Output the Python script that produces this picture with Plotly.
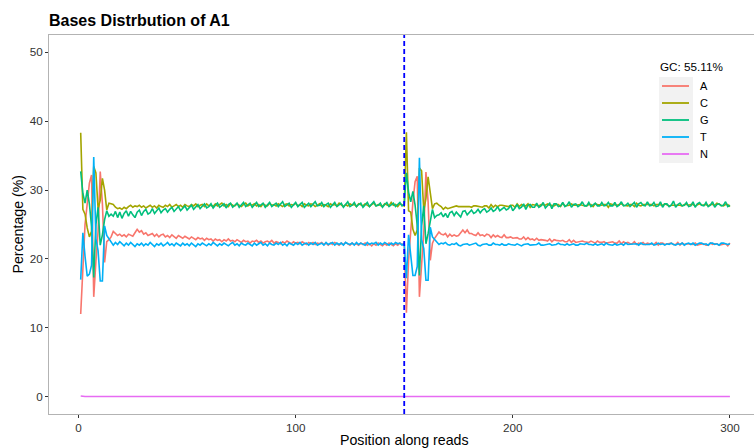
import plotly.graph_objects as go

# ---------------- data (read 1 = positions 1-150, read 2 = positions 151-300) ----------------
A_read1 = [12.0, 19.5, 25.0, 28.0, 31.0, 32.2, 14.5, 19.6, 24.0, 32.7,
           28.0, 19.5, 22.5, 22.8, 23.2, 24.0, 23.7, 23.4, 23.6, 23.3,
           23.5, 23.2, 23.6, 23.4, 23.3, 23.8, 24.3, 23.9, 24.1, 23.6,
           23.8, 23.4, 23.5, 23.7, 23.3, 23.6, 23.2, 23.5, 23.6, 23.2,
           23.4, 23.1, 23.5, 23.3, 23.0, 23.4, 23.2, 23.0, 23.3, 23.1,
           22.9, 23.2, 23.0, 22.8, 23.1, 22.9, 23.0, 22.7, 23.0, 22.8,
           22.9, 22.6, 22.9, 22.7, 22.8, 22.5, 22.8, 22.6, 22.9, 22.6,
           22.7, 22.5, 22.8, 22.6, 22.4, 22.7, 22.5, 22.6, 22.3, 22.6,
           22.5, 22.7, 22.4, 22.6, 22.3, 22.5, 22.6, 22.4, 22.7, 22.3,
           22.5, 22.4, 22.2, 22.5, 22.3, 22.6, 22.4, 22.2, 22.5, 22.3,
           22.4, 22.2, 22.5, 22.3, 22.1, 22.4, 22.2, 22.4, 22.1, 22.3,
           22.2, 22.4, 22.1, 22.3, 22.0, 22.3, 22.1, 22.4, 22.2, 22.0,
           22.3, 22.1, 22.4, 22.2, 22.0, 22.3, 22.1, 22.2, 22.0, 22.3,
           22.1, 22.3, 22.0, 22.2, 21.9, 22.2, 22.0, 22.3, 22.1, 21.9,
           22.2, 22.0, 22.3, 22.1, 21.9, 22.2, 22.0, 22.3, 22.1, 22.2]
A_read2 = [12.2, 19.8, 24.6, 28.3, 31.2, 32.0, 14.5, 19.9, 23.8, 32.6,
           28.3, 19.8, 22.3, 23.0, 23.5, 23.9, 23.6, 23.5, 23.7, 23.2,
           23.6, 23.3, 23.5, 23.3, 23.4, 23.9, 24.2, 23.8, 24.2, 23.7,
           23.7, 23.5, 23.4, 23.8, 23.4, 23.5, 23.3, 23.6, 23.5, 23.1,
           23.5, 23.2, 23.4, 23.2, 23.1, 23.5, 23.1, 23.1, 23.2, 23.0,
           23.0, 23.1, 22.9, 22.9, 23.2, 22.8, 23.1, 22.8, 22.9, 22.7,
           23.0, 22.7, 22.8, 22.8, 22.7, 22.6, 22.9, 22.5, 22.8, 22.7,
           22.6, 22.6, 22.7, 22.5, 22.5, 22.8, 22.4, 22.7, 22.4, 22.5,
           22.6, 22.6, 22.5, 22.5, 22.4, 22.6, 22.5, 22.3, 22.6, 22.4,
           22.4, 22.5, 22.3, 22.4, 22.4, 22.5, 22.3, 22.3, 22.6, 22.2,
           22.5, 22.3, 22.4, 22.2, 22.2, 22.5, 22.1, 22.3, 22.2, 22.4,
           22.1, 22.3, 22.2, 22.2, 22.1, 22.4, 22.0, 22.3, 22.3, 22.1,
           22.2, 22.2, 22.3, 22.1, 22.1, 22.4, 22.0, 22.3, 22.1, 22.2,
           22.2, 22.2, 22.1, 22.3, 22.0, 22.1, 22.1, 22.2, 22.0, 22.0,
           22.3, 22.1, 22.2, 22.2, 22.0, 22.1, 22.1, 22.2, 21.9, 22.3]

C_read1 = [38.3, 27.2, 26.5, 24.5, 23.2, 24.0, 33.4, 32.5, 27.3, 28.5,
           31.7, 30.0, 27.1, 28.1, 28.0, 27.9, 27.5, 27.3, 27.4, 27.2,
           27.5, 27.3, 27.6, 27.8, 27.5, 27.7, 27.6, 27.8, 27.5, 27.7,
           27.4, 27.6, 27.8, 27.5, 27.7, 27.4, 27.8, 27.6, 27.5, 27.8,
           27.6, 27.9, 27.5, 27.7, 27.9, 27.6, 27.8, 27.5, 27.9, 27.7,
           27.6, 27.9, 27.7, 28.0, 27.6, 27.8, 27.9, 27.6, 28.0, 27.7,
           27.8, 27.6, 28.0, 27.7, 27.9, 28.1, 27.7, 27.9, 27.6, 28.0,
           27.8, 27.7, 28.0, 27.8, 27.6, 27.9, 28.1, 27.7, 27.9, 27.8,
           28.0, 27.7, 27.9, 27.6, 28.0, 27.8, 27.7, 28.1, 27.8, 27.9,
           27.7, 28.0, 27.8, 27.6, 27.9, 28.0, 27.7, 27.9, 27.8, 28.1,
           27.7, 27.9, 27.6, 28.0, 27.8, 27.7, 28.0, 27.9, 27.6, 27.8,
           28.0, 27.7, 27.9, 27.8, 27.6, 28.0, 27.8, 27.9, 27.7, 28.1,
           27.8, 27.6, 27.9, 27.7, 28.0, 27.8, 27.9, 27.6, 28.0, 27.8,
           27.7, 28.0, 27.8, 27.6, 27.9, 28.1, 27.7, 27.9, 27.8, 27.6,
           28.0, 27.8, 27.7, 28.2, 27.8, 27.9, 27.6, 28.0, 27.8, 27.7]
C_read2 = [38.4, 27.0, 26.8, 24.3, 23.4, 24.2, 33.2, 32.8, 27.0, 28.8,
           31.9, 29.6, 27.3, 28.0, 28.1, 27.8, 27.6, 27.2, 27.5, 27.3,
           27.4, 27.4, 27.5, 27.7, 27.6, 27.6, 27.7, 27.7, 27.6, 27.6,
           27.5, 27.7, 27.7, 27.6, 27.6, 27.5, 27.7, 27.7, 27.4, 27.9,
           27.5, 27.8, 27.6, 27.8, 27.8, 27.7, 27.7, 27.6, 27.8, 27.8,
           27.5, 28.0, 27.6, 27.9, 27.7, 27.7, 28.0, 27.5, 27.9, 27.8,
           27.7, 27.7, 27.9, 27.8, 27.8, 28.0, 27.8, 27.8, 27.7, 27.9,
           27.9, 27.6, 28.1, 27.7, 27.7, 27.8, 28.0, 27.8, 27.8, 27.9,
           27.9, 27.8, 27.8, 27.7, 27.9, 27.9, 27.6, 28.0, 27.9, 27.8,
           27.8, 27.9, 27.9, 27.5, 28.0, 27.9, 27.8, 27.8, 27.9, 28.0,
           27.8, 27.8, 27.7, 27.9, 27.9, 27.6, 28.1, 27.8, 27.7, 27.9,
           27.9, 27.8, 27.8, 27.9, 27.7, 27.9, 27.9, 27.8, 27.8, 28.0,
           27.9, 27.7, 27.8, 27.8, 27.9, 27.9, 27.8, 27.7, 27.9, 27.9,
           27.8, 27.9, 27.9, 27.7, 27.8, 28.0, 27.8, 27.8, 27.9, 27.7,
           27.9, 27.9, 27.8, 28.1, 27.9, 27.8, 27.7, 27.9, 27.9, 27.6]

G_read1 = [32.7, 29.5, 28.1, 30.0, 28.0, 24.7, 17.3, 25.0, 27.5, 22.0,
           23.5, 25.7, 27.0, 26.2, 26.5, 26.2, 26.9, 26.0, 26.8, 25.9,
           26.6, 27.0, 26.2, 26.9, 26.4, 26.0, 26.8, 27.1, 26.3, 26.9,
           27.2, 26.5, 26.7, 27.3, 26.6, 27.0, 27.4, 26.7, 27.1, 27.3,
           26.8, 27.2, 27.5, 26.9, 27.3, 27.6, 27.0, 27.4, 27.7, 27.1,
           27.5, 27.8, 27.2, 27.6, 27.9, 27.3, 27.7, 28.0, 27.4, 27.6,
           28.0, 27.4, 27.8, 28.1, 27.5, 27.7, 28.0, 27.4, 27.9, 28.1,
           27.5, 27.8, 28.1, 27.5, 27.9, 28.2, 27.6, 27.8, 28.1, 27.5,
           27.9, 28.2, 27.6, 27.8, 28.1, 27.5, 27.9, 28.2, 27.6, 27.8,
           28.1, 27.6, 27.9, 28.3, 27.6, 27.8, 28.1, 27.5, 27.9, 28.2,
           27.6, 27.9, 28.2, 27.5, 27.8, 28.1, 27.6, 27.9, 28.3, 27.7,
           27.8, 28.2, 27.6, 27.9, 28.1, 27.5, 27.8, 28.2, 27.6, 27.9,
           28.1, 27.5, 27.9, 28.3, 27.6, 27.8, 28.2, 27.6, 27.9, 28.1,
           27.5, 27.8, 28.2, 27.6, 27.9, 28.3, 27.7, 27.8, 28.1, 27.5,
           27.9, 28.2, 27.6, 27.8, 28.1, 27.6, 27.9, 28.2, 27.7, 27.9]
G_read2 = [32.5, 29.7, 28.3, 29.8, 27.8, 24.9, 17.6, 24.8, 27.7, 22.2,
           23.7, 25.5, 27.2, 26.0, 26.3, 26.4, 26.7, 26.1, 26.6, 26.0,
           26.7, 26.9, 26.3, 26.8, 26.5, 26.1, 26.9, 27.0, 26.4, 26.8,
           27.1, 26.6, 26.8, 27.2, 26.7, 27.1, 27.3, 26.8, 27.0, 27.4,
           26.9, 27.1, 27.6, 27.0, 27.2, 27.5, 27.1, 27.3, 27.8, 27.0,
           27.4, 27.9, 27.3, 27.5, 28.0, 27.2, 27.8, 27.9, 27.5, 27.5,
           28.1, 27.5, 27.7, 28.2, 27.4, 27.8, 28.1, 27.3, 28.0, 28.0,
           27.6, 27.7, 28.2, 27.6, 27.8, 28.3, 27.5, 27.9, 28.0, 27.6,
           27.8, 28.3, 27.7, 27.7, 28.2, 27.6, 27.8, 28.1, 27.7, 27.7,
           28.2, 27.7, 27.8, 28.2, 27.7, 27.7, 28.2, 27.6, 27.8, 28.3,
           27.7, 27.8, 28.1, 27.6, 27.9, 28.2, 27.5, 28.0, 28.2, 27.8,
           27.7, 28.3, 27.7, 27.8, 28.2, 27.6, 27.7, 28.3, 27.5, 28.0,
           28.0, 27.6, 27.8, 28.4, 27.5, 27.9, 28.1, 27.7, 27.8, 28.2,
           27.6, 27.7, 28.3, 27.5, 28.0, 28.2, 27.8, 27.7, 28.2, 27.6,
           27.8, 28.3, 27.5, 27.9, 28.0, 27.7, 27.8, 28.3, 27.6, 27.8]

T_read1 = [17.0, 23.8, 20.4, 17.5, 17.8, 19.1, 34.8, 22.9, 21.2, 16.8,
           16.8, 24.8, 23.4, 22.9, 22.3, 22.0, 22.4, 22.1, 22.5, 22.2,
           21.9, 22.3, 22.0, 22.4, 22.1, 21.8, 22.2, 22.0, 22.3, 21.9,
           22.2, 22.0, 22.4, 22.1, 21.8, 22.2, 22.0, 22.3, 21.9, 22.1,
           22.4, 22.0, 22.2, 21.9, 22.3, 22.1, 21.9, 22.3, 22.0, 22.2,
           21.9, 22.3, 22.1, 21.8, 22.2, 22.0, 22.3, 22.1, 21.9, 22.2,
           22.0, 22.4, 22.1, 21.9, 22.2, 22.0, 22.3, 22.1, 21.9, 22.2,
           22.4, 22.0, 22.2, 21.9, 22.3, 22.1, 22.0, 22.3, 22.1, 21.9,
           22.3, 22.0, 22.2, 22.4, 22.0, 22.2, 21.9, 22.3, 22.1, 22.0,
           22.3, 22.1, 22.4, 22.0, 22.2, 21.9, 22.3, 22.1, 22.0, 22.3,
           22.1, 22.4, 22.0, 22.2, 22.3, 22.0, 22.3, 22.1, 22.4, 22.0,
           22.2, 22.3, 22.0, 22.4, 22.1, 22.2, 22.4, 22.0, 22.3, 22.1,
           22.3, 22.0, 22.4, 22.2, 22.1, 22.3, 22.0, 22.4, 22.1, 22.3,
           22.2, 22.0, 22.4, 22.1, 22.3, 22.2, 22.4, 22.0, 22.3, 22.1,
           22.4, 22.2, 22.0, 22.3, 22.1, 22.4, 22.2, 22.3, 22.0, 22.3]
T_read2 = [17.2, 23.5, 20.3, 17.6, 17.6, 18.9, 34.7, 22.8, 21.5, 16.9,
           16.9, 24.6, 23.2, 22.8, 22.4, 22.1, 22.3, 22.2, 22.4, 22.1,
           22.0, 22.2, 22.1, 22.3, 22.0, 21.9, 22.1, 22.1, 22.2, 22.0,
           22.1, 22.1, 22.3, 22.0, 21.9, 22.1, 22.1, 22.2, 22.0, 22.0,
           22.3, 22.1, 22.1, 22.0, 22.2, 22.0, 22.0, 22.2, 22.1, 22.1,
           22.0, 22.2, 22.0, 21.9, 22.1, 22.1, 22.2, 22.0, 22.0, 22.1,
           22.1, 22.3, 22.0, 22.0, 22.1, 22.1, 22.2, 22.0, 22.0, 22.1,
           22.3, 22.1, 22.1, 22.0, 22.2, 22.0, 22.1, 22.2, 22.0, 22.0,
           22.2, 22.1, 22.1, 22.3, 22.1, 22.1, 22.0, 22.2, 22.0, 22.1,
           22.2, 22.0, 22.3, 22.1, 22.1, 22.0, 22.2, 22.0, 22.1, 22.2,
           22.0, 22.3, 22.1, 22.1, 22.2, 22.1, 22.2, 22.0, 22.3, 22.1,
           22.1, 22.2, 22.1, 22.3, 22.0, 22.1, 22.3, 22.1, 22.2, 22.0,
           22.2, 22.1, 22.3, 22.1, 22.0, 22.2, 22.1, 22.3, 22.0, 22.2,
           22.3, 22.1, 22.3, 22.0, 22.2, 22.3, 22.3, 22.1, 22.2, 22.0,
           22.3, 22.3, 22.1, 22.2, 22.0, 22.3, 22.3, 22.2, 22.1, 22.2]

N_read1 = [0.12, 0.04, 0.03, 0.03, 0.03, 0.03, 0.03, 0.03, 0.03, 0.03,
           0.03, 0.03, 0.05, 0.12, 0.05, 0.03, 0.03, 0.03, 0.03, 0.03,
           0.03, 0.03, 0.03, 0.03, 0.03, 0.03, 0.03, 0.03, 0.03, 0.03,
           0.03, 0.03, 0.03, 0.03, 0.03, 0.03, 0.03, 0.03, 0.03, 0.03,
           0.03, 0.03, 0.03, 0.03, 0.03, 0.03, 0.03, 0.05, 0.13, 0.05,
           0.03, 0.03, 0.03, 0.03, 0.03, 0.03, 0.03, 0.03, 0.03, 0.03,
           0.03, 0.03, 0.03, 0.03, 0.03, 0.03, 0.03, 0.03, 0.03, 0.03,
           0.03, 0.03, 0.03, 0.03, 0.03, 0.03, 0.03, 0.03, 0.03, 0.03,
           0.03, 0.03, 0.03, 0.03, 0.03, 0.03, 0.03, 0.03, 0.03, 0.03,
           0.03, 0.03, 0.03, 0.03, 0.03, 0.03, 0.03, 0.03, 0.03, 0.03,
           0.03, 0.03, 0.03, 0.03, 0.03, 0.03, 0.03, 0.03, 0.03, 0.03,
           0.03, 0.03, 0.03, 0.03, 0.03, 0.03, 0.03, 0.03, 0.03, 0.03,
           0.03, 0.03, 0.03, 0.03, 0.03, 0.03, 0.03, 0.03, 0.03, 0.03,
           0.03, 0.03, 0.03, 0.03, 0.03, 0.03, 0.03, 0.03, 0.03, 0.03,
           0.03, 0.03, 0.03, 0.03, 0.03, 0.03, 0.03, 0.03, 0.03, 0.03]
N_read2 = [0.05, 0.04, 0.03, 0.03, 0.03, 0.03, 0.03, 0.03, 0.03, 0.03,
           0.03, 0.03, 0.03, 0.04, 0.03, 0.03, 0.03, 0.03, 0.03, 0.03,
           0.03, 0.03, 0.03, 0.03, 0.03, 0.03, 0.03, 0.03, 0.03, 0.03,
           0.03, 0.03, 0.03, 0.03, 0.03, 0.03, 0.03, 0.03, 0.03, 0.03,
           0.03, 0.03, 0.03, 0.03, 0.03, 0.03, 0.03, 0.03, 0.03, 0.03,
           0.03, 0.03, 0.03, 0.03, 0.03, 0.03, 0.03, 0.03, 0.03, 0.03,
           0.03, 0.03, 0.03, 0.03, 0.03, 0.03, 0.03, 0.03, 0.03, 0.03,
           0.03, 0.03, 0.03, 0.03, 0.03, 0.03, 0.03, 0.03, 0.03, 0.03,
           0.03, 0.03, 0.03, 0.03, 0.03, 0.03, 0.03, 0.03, 0.03, 0.03,
           0.03, 0.03, 0.03, 0.03, 0.03, 0.03, 0.03, 0.03, 0.03, 0.03,
           0.03, 0.03, 0.03, 0.03, 0.03, 0.03, 0.03, 0.03, 0.03, 0.03,
           0.03, 0.03, 0.03, 0.03, 0.03, 0.03, 0.03, 0.03, 0.03, 0.03,
           0.03, 0.03, 0.03, 0.03, 0.03, 0.03, 0.03, 0.03, 0.03, 0.03,
           0.03, 0.03, 0.03, 0.03, 0.03, 0.03, 0.03, 0.03, 0.03, 0.03,
           0.03, 0.03, 0.03, 0.03, 0.03, 0.03, 0.03, 0.03, 0.03, 0.03]

bases = ["A", "C", "G", "T", "N"]
base_colors = ["#F8766D", "#A3A500", "#00BF7D", "#00B0F6", "#E76BF3"]
read_boundary = 150
gc_label = "GC: 55.11%"
title_text = "Bases Distrbution of A1"
x_ticks = [0, 100, 200, 300]
y_ticks = [0, 10, 20, 30, 40, 50]

series = {
    "A": A_read1 + A_read2,
    "C": C_read1 + C_read2,
    "G": G_read1 + G_read2,
    "T": T_read1 + T_read2,
    "N": N_read1 + N_read2,
}
positions = list(range(1, len(series["A"]) + 1))

# ---------------- geometry ----------------
W, H = 754, 448
L, R, T, B = 49, 0, 35, 34
PW, PH = W - L - R, H - T - B


def px2x(px):
    return (px - L) / PW


def py2y(py):
    return (H - B - py) / PH


FONT = "Liberation Sans, Arial, sans-serif"

fig = go.Figure()
for b, col in zip(bases, base_colors):
    fig.add_trace(go.Scatter(x=positions, y=series[b], mode="lines", name=b,
                             line=dict(color=col, width=1.6), showlegend=False))

shapes = [dict(type="line", xref="x", yref="paper", x0=read_boundary, x1=read_boundary,
               y0=0, y1=1, line=dict(color="#0000FF", width=1.8, dash="5px,3px"), layer="above")]

# legend (ggplot style)
shapes.append(dict(type="rect", xref="paper", yref="paper",
                   x0=px2x(659), x1=px2x(693), y0=py2y(163), y1=py2y(77),
                   fillcolor="#f2f2f2", line=dict(width=0), layer="above"))
annotations = [dict(text=gc_label, xref="paper", yref="paper", x=px2x(658), y=py2y(66),
                    xanchor="left", yanchor="middle", showarrow=False,
                    font=dict(family=FONT, size=11.7, color="#000000"))]
key_y = [86, 103, 120, 137, 154]
for b, col, ky in zip(bases, base_colors, key_y):
    shapes.append(dict(type="line", xref="paper", yref="paper", x0=px2x(662), x1=px2x(689),
                       y0=py2y(ky), y1=py2y(ky), line=dict(color=col, width=1.8), layer="above"))
    annotations.append(dict(text=b, xref="paper", yref="paper", x=px2x(698), y=py2y(ky),
                            xanchor="left", yanchor="middle", showarrow=False,
                            font=dict(family=FONT, size=11, color="#000000")))

# axis titles
annotations.append(dict(text="Position along reads", xref="paper", yref="paper",
                        x=px2x(405), y=py2y(440), xanchor="center", yanchor="middle",
                        showarrow=False, font=dict(family=FONT, size=14.2, color="#000000")))
annotations.append(dict(text="Percentage (%)", xref="paper", yref="paper",
                        x=px2x(17), y=py2y(224.5), xanchor="center", yanchor="middle",
                        textangle=-90, showarrow=False,
                        font=dict(family=FONT, size=14.2, color="#000000")))

axis_common = dict(showgrid=False, zeroline=False, showline=True, mirror=True,
                   linecolor="#b3b3b3", linewidth=1, ticks="outside", ticklen=3,
                   tickwidth=1, tickcolor="#333333", automargin=False,
                   tickfont=dict(family=FONT, size=11.7, color="#333333"))

fig.update_layout(
    width=W, height=H,
    margin=dict(l=L, r=R, t=T, b=B, pad=0, autoexpand=False),
    paper_bgcolor="white", plot_bgcolor="white",
    title=dict(text="<b>" + title_text + "</b>", xref="container", yref="container",
               x=L / W, y=1 - 20 / H, xanchor="left", yanchor="middle",
               font=dict(family=FONT, size=16, color="#000000")),
    xaxis=dict(range=[-13.6, -13.6 + PW / 2.1713], tickvals=x_ticks, **axis_common),
    yaxis=dict(range=[-2.5, 52.5], tickvals=y_ticks, **axis_common),
    shapes=shapes, annotations=annotations,
    showlegend=False,
)

fig.write_html("out.html", config={"displayModeBar": False},
               post_script="document.body.style.margin='0';document.body.style.padding='0';")
